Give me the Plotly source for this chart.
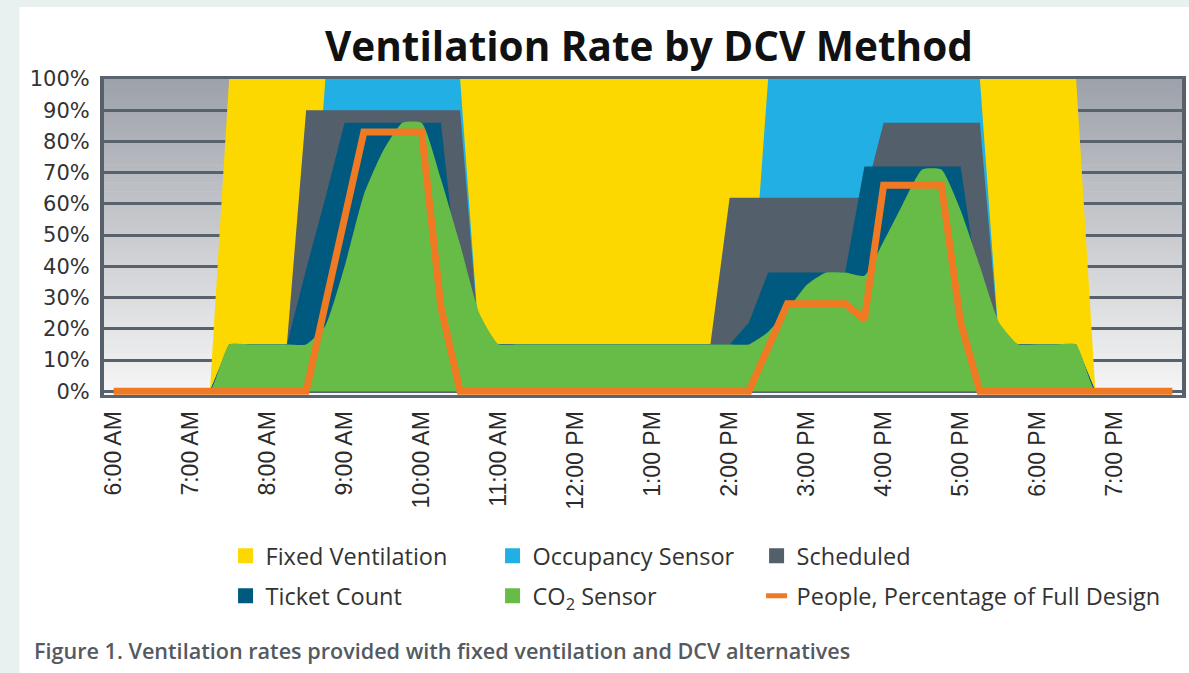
import plotly.graph_objects as go

# ---------------- data (15-minute steps, 6:00 AM .. 7:45 PM) ----------------
hours = [6 + 0.25 * i for i in range(56)]

fixed_ventilation = [0, 0, 0, 0,  0, 0, 100, 100,  100, 100, 100, 100,  100, 100, 100, 100,
                     100, 100, 100, 100,  100, 100, 100, 100,  100, 100, 100, 100,  100, 100, 100, 100,
                     100, 100, 100, 100,  100, 100, 100, 100,  100, 100, 100, 100,  100, 100, 100, 100,
                     100, 100, 100, 0,  0, 0, 0, 0]
occupancy_sensor = [0, 0, 0, 0,  0, 0, 15, 15,  15, 15, 15, 100,  100, 100, 100, 100,
                    100, 100, 100, 15,  15, 15, 15, 15,  15, 15, 15, 15,  15, 15, 15, 15,
                    15, 15, 100, 100,  100, 100, 100, 100,  100, 100, 100, 100,  100, 100, 15, 15,
                    15, 15, 15, 0,  0, 0, 0, 0]
scheduled = [0, 0, 0, 0,  0, 0, 15, 15,  15, 15, 90, 90,  90, 90, 90, 90,
             90, 90, 90, 15,  15, 15, 15, 15,  15, 15, 15, 15,  15, 15, 15, 15,
             62, 62, 62, 62,  62, 62, 62, 62,  86, 86, 86, 86,  86, 86, 15, 15,
             15, 15, 15, 0,  0, 0, 0, 0]
ticket_count = [0, 0, 0, 0,  0, 0, 15, 15,  15, 15, 39, 62,  86, 86, 86, 86,
                86, 86, 30, 15,  15, 15, 15, 15,  15, 15, 15, 15,  15, 15, 15, 15,
                15, 22, 38, 38,  38, 38, 38, 72,  72, 72, 72, 72,  72, 30, 15, 15,
                15, 15, 15, 0,  0, 0, 0, 0]
co2_sensor = [0, 0, 0, 0,  0, 0, 15, 15,  15, 15, 15, 21,  40, 63, 77, 86,
              86, 68, 47, 25,  15, 15, 15, 15,  15, 15, 15, 15,  15, 15, 15, 15,
              15, 15, 19, 26,  34, 38, 38, 37,  48, 60, 71, 71,  58, 40, 22, 15,
              15, 15, 15, 0,  0, 0, 0, 0]
people_pct = [0, 0, 0, 0,  0, 0, 0, 0,  0, 0, 0, 28,  55, 83, 83, 83,
              83, 27, 0, 0,  0, 0, 0, 0,  0, 0, 0, 0,  0, 0, 0, 0,
              0, 0, 14, 28,  28, 28, 28, 23,  66, 66, 66, 66,  22, 0, 0, 0,
              0, 0, 0, 0,  0, 0, 0, 0]

tick_hours = [6, 7, 8, 9, 10, 11, 12, 13, 14, 15, 16, 17, 18, 19]
tick_labels = ["6:00 AM", "7:00 AM", "8:00 AM", "9:00 AM", "10:00 AM", "11:00 AM",
               "12:00 PM", "1:00 PM", "2:00 PM", "3:00 PM", "4:00 PM", "5:00 PM",
               "6:00 PM", "7:00 PM"]
y_ticks = [0, 10, 20, 30, 40, 50, 60, 70, 80, 90, 100]

names = ["Fixed Ventilation", "Occupancy Sensor", "Scheduled", "Ticket Count",
         "CO<sub>2</sub> Sensor", "People, Percentage of Full Design"]
colors = ["#FDD800", "#21AFE4", "#535F6B", "#005A7F", "#67BB47", "#F07A23"]

# ---------------- figure ----------------
fig = go.Figure()
area_series = [fixed_ventilation, occupancy_sensor, scheduled, ticket_count, co2_sensor]
for k, ys in enumerate(area_series):
    fig.add_trace(go.Scatter(
        x=hours, y=ys, mode="lines", fill="tozeroy",
        line=dict(width=0, color=colors[k], shape="spline" if k == 4 else "linear",
                  smoothing=0.5 if k == 4 else None),
        fillcolor=colors[k], showlegend=False, hoverinfo="skip"))
fig.add_trace(go.Scatter(
    x=hours, y=people_pct, mode="lines",
    line=dict(width=7, color=colors[5]), showlegend=False, hoverinfo="skip"))

# ---------------- layout helpers ----------------
L, R, T, B = 104, 3, 79, 278
W, H = 1189, 673
pw, ph = W - L - R, H - T - B

def px_x(x):
    return (x - L) / pw

def px_y(y):
    return (H - B - y) / ph

# legend entries, one legend per entry (text start x, row centre y)
legend_pos = [(267, 556), (535, 556), (800, 556), (267, 596), (535, 596), (800, 596)]
legend_layout = {}
for k in range(6):
    lg = "legend" if k == 0 else "legend%d" % (k + 1)
    if k < 5:
        mk = dict(symbol="square", size=15, color=colors[k])
    else:
        mk = dict(symbol="line-ew", size=15, line=dict(width=7, color=colors[k]))
    fig.add_trace(go.Scatter(x=[None], y=[None], mode="markers", marker=mk,
                             name=names[k], legend=lg, showlegend=True))
    tx, ty = legend_pos[k]
    legend_layout[lg] = dict(orientation="h", x=px_x(tx - 41), xanchor="left",
                             y=px_y(ty), yanchor="middle", bgcolor="rgba(0,0,0,0)",
                             font=dict(family="Open Sans, sans-serif", size=23.5,
                                       color="#333333"))

shapes = []
# white card over light frame
shapes.append(dict(type="rect", xref="paper", yref="paper",
                   x0=px_x(19), x1=px_x(W + 5), y0=px_y(H + 5), y1=px_y(7),
                   fillcolor="white", line=dict(width=0), layer="below"))
# vertical gradient of the plot area
nb = 70
c_top = (157, 161, 169)
c_bot = (246, 246, 246)
for i in range(nb):
    t = (i + 0.5) / nb
    c = tuple(int(round(c_bot[j] + (c_top[j] - c_bot[j]) * t)) for j in range(3))
    shapes.append(dict(type="rect", xref="paper", yref="paper",
                       x0=0, x1=1, y0=i / nb, y1=(i + 1) / nb + 0.002,
                       fillcolor="rgb(%d,%d,%d)" % c, line=dict(width=0), layer="below"))

fig.update_layout(
    width=W, height=H,
    margin=dict(l=L, r=R, t=T, b=B),
    paper_bgcolor="#E8F0F0",
    plot_bgcolor="rgba(0,0,0,0)",
    shapes=shapes,
    xaxis=dict(range=[5.875, 19.875], tickmode="array", tickvals=tick_hours,
               ticktext=tick_labels, tickangle=-90, showgrid=False, zeroline=False,
               showline=True, linecolor="#5A6470", linewidth=3, mirror=True,
               ticks="", ticklabelstandoff=4,
               tickfont=dict(family="Liberation Sans, Arial, sans-serif",
                             size=23, color="#2B2B2B")),
    yaxis=dict(range=[-1.2, 100], tickmode="array", tickvals=y_ticks,
               ticktext=["%d%%" % v for v in y_ticks], showgrid=True,
               gridcolor="#58626D", gridwidth=3, zeroline=False,
               showline=True, linecolor="#56606B", linewidth=4, mirror=True,
               ticks="", ticklabelstandoff=6,
               tickfont=dict(family="DejaVu Sans, sans-serif", size=21,
                             color="#333333")),
    annotations=[
        dict(text="<b>Ventilation Rate by DCV Method</b>", xref="paper", yref="paper",
             x=px_x(651), y=px_y(45), xanchor="center", yanchor="middle", showarrow=False,
             font=dict(family="Open Sans, sans-serif", size=40.5, color="#111111")),
        dict(text="Figure 1. Ventilation rates provided with fixed ventilation and DCV alternatives",
             xref="paper", yref="paper", x=px_x(32), y=px_y(650), xanchor="left",
             yanchor="middle", showarrow=False,
             font=dict(family="Open Sans, sans-serif", size=21.6, color="#555A60", weight=600)),
    ],
    **legend_layout,
)

fig.write_html(
    "out.html",
    config={"displayModeBar": False},
    post_script="document.body.style.margin='0';document.body.style.background='#E8F0F0';",
)
